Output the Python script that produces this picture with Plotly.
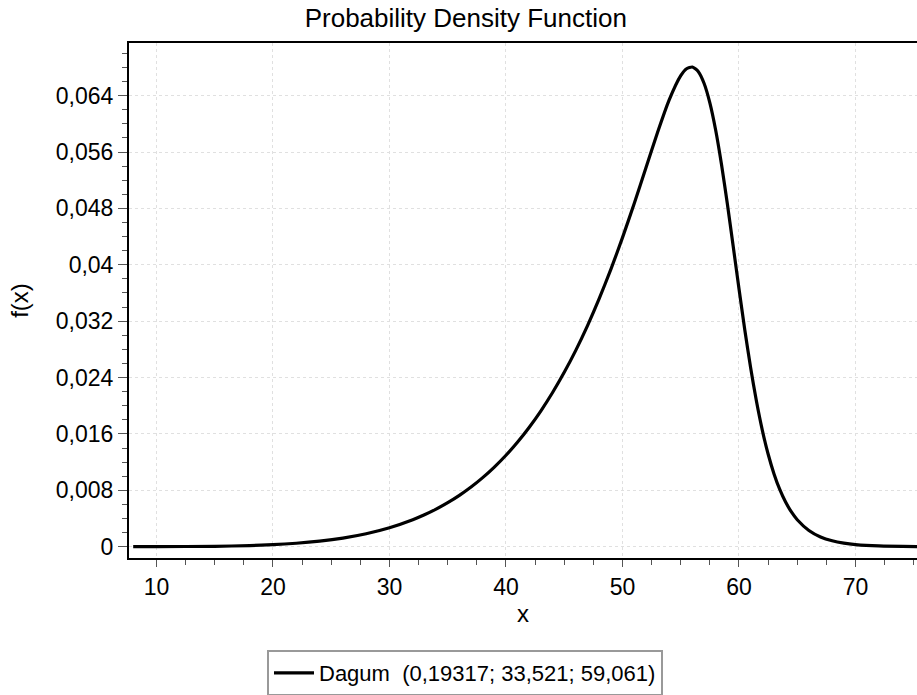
import plotly.graph_objects as go

# Values
x_vals = [8, 10, 15, 18, 20, 22, 24, 26, 28, 30, 32, 33, 34, 35, 36, 37, 38, 39, 40,
          41, 42, 43, 44, 45, 46, 47, 48, 49, 50, 51, 52, 53, 54, 55, 55.5, 56, 56.5,
          57, 57.5, 58, 58.5, 59, 59.5, 60, 60.5, 61, 61.5, 62, 62.5, 63, 63.5, 64,
          64.5, 65, 66, 67, 68, 69, 70, 72, 75.3]
y_vals = [0.0000019, 0.0000065, 0.0000604, 0.000164, 0.000292, 0.000492, 0.000792,
          0.001228, 0.001842, 0.002688, 0.003826, 0.004525, 0.005333, 0.006249,
          0.007288, 0.008465, 0.009803, 0.011302, 0.012980, 0.014860, 0.016958,
          0.019287, 0.021876, 0.024740, 0.027895, 0.031371, 0.035186, 0.039345,
          0.043851, 0.048667, 0.053701, 0.058740, 0.063364, 0.066839, 0.067821,
          0.068065, 0.067428, 0.065756, 0.062974, 0.059096, 0.054245, 0.048664,
          0.042668, 0.036590, 0.030757, 0.025381, 0.020636, 0.016557, 0.013152,
          0.010369, 0.008123, 0.006337, 0.004930, 0.003827, 0.002303, 0.001385,
          0.000837, 0.000508, 0.000310, 0.000117, 0.000028]

series_name = "Dagum\u00a0\u00a0(0,19317;\u00a033,521;\u00a059,061)"

y_tick_vals = [0, 0.008, 0.016, 0.024, 0.032, 0.04, 0.048, 0.056, 0.064]
y_tick_text = ["0", "0,008", "0,016", "0,024", "0,032", "0,04", "0,048", "0,056", "0,064"]
x_tick_vals = [10, 20, 30, 40, 50, 60, 70]
x_tick_text = ["10", "20", "30", "40", "50", "60", "70"]

font_family = "Liberation Sans, Arial, sans-serif"

fig = go.Figure()
fig.add_trace(go.Scatter(
    x=x_vals, y=y_vals, mode="lines", name=series_name,
    line=dict(color="black", width=3.2, shape="spline", smoothing=0.6),
    showlegend=True,
))

fig.update_layout(
    width=917, height=695,
    margin=dict(l=129, r=0, t=43, b=137, autoexpand=False),
    paper_bgcolor="white", plot_bgcolor="white",
    font=dict(family=font_family, size=23, color="black"),
    title=dict(text="Probability Density Function", x=0.508, xanchor="center",
               xref="container", yref="container", y=1 - 18 / 695, yanchor="middle",
               font=dict(family=font_family, size=26, color="black")),
    showlegend=True,
    legend=dict(orientation="h", xref="container", yref="container",
                x=465 / 917, xanchor="center", y=1 - 650 / 695, yanchor="top",
                bordercolor="#999999", borderwidth=2, bgcolor="white",
                itemwidth=40, indentation=0,
                font=dict(family=font_family, size=22, color="black")),
)

fig.update_xaxes(
    range=[7.64, 75.28], tickvals=x_tick_vals, ticktext=x_tick_text,
    ticks="outside", ticklen=7, tickwidth=1, tickcolor="#555555",
    minor=dict(dtick=2.5, tick0=0, ticks="outside", ticklen=5, tickcolor="#555555",
               showgrid=False),
    showline=True, linecolor="black", linewidth=2, mirror=True,
    showgrid=True, gridcolor="#e0e0e0", griddash="dot", gridwidth=1,
    zeroline=False,
    title=dict(text="x", standoff=7, font=dict(family=font_family, size=24)),
    tickfont=dict(family=font_family, size=23),
)
fig.update_yaxes(
    range=[-0.0016, 0.07147], tickvals=y_tick_vals, ticktext=y_tick_text,
    ticks="outside", ticklen=9, tickwidth=1, tickcolor="#555555",
    minor=dict(dtick=0.002, tick0=0, ticks="outside", ticklen=5, tickcolor="#555555",
               showgrid=False),
    showline=True, linecolor="black", linewidth=2, mirror=False,
    showgrid=True, gridcolor="#e0e0e0", griddash="dot", gridwidth=1,
    zeroline=False,
    title=dict(text="f(x)", standoff=20, font=dict(family=font_family, size=24)),
    tickfont=dict(family=font_family, size=23),
)

fig.write_html("out.html")
